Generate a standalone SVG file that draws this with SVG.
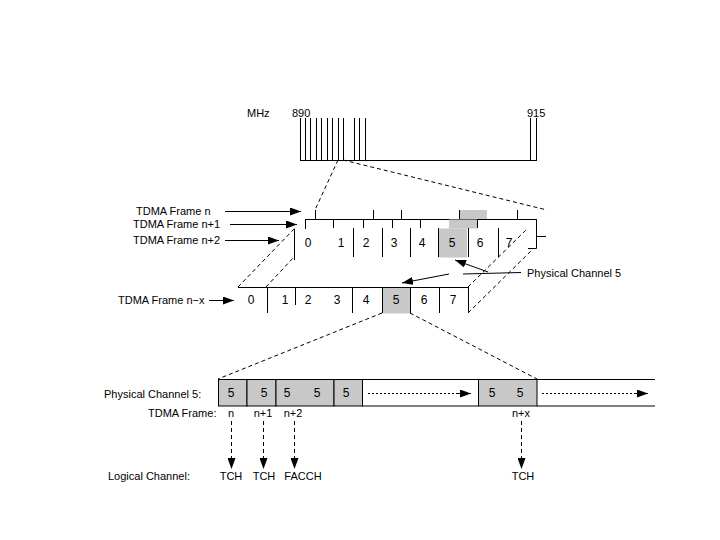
<svg xmlns="http://www.w3.org/2000/svg" width="720" height="540" viewBox="0 0 720 540">
<defs>
<marker id="ah" markerUnits="userSpaceOnUse" markerWidth="11" markerHeight="8" refX="11" refY="4" orient="auto"><path d="M0,0 L11,4 L0,8 z" fill="#000"/></marker>
<style>
text{font-family:"Liberation Sans",Arial,sans-serif;font-size:11px;fill:#000}
.c{text-anchor:middle}
.d{font-size:12px;text-anchor:middle}
.ln{stroke:#000;stroke-width:1;fill:none}
.g{fill:#c8c8c8;stroke:none}
.gb{fill:#c8c8c8;stroke:#000;stroke-width:1}
.dash{stroke:#000;stroke-width:1;stroke-dasharray:4 3;fill:none}
.dot{stroke:#000;stroke-width:1;stroke-dasharray:2 2;fill:none}
.arr{stroke:#000;stroke-width:1;fill:none;marker-end:url(#ah)}
.darr{stroke:#000;stroke-width:1;fill:none;stroke-dasharray:4 3;marker-end:url(#ah)}
</style>
</defs>
<rect width="720" height="540" fill="#fff"/>

<g id="band">
<text x="247" y="117">MHz</text>
<text x="292" y="117">890</text>
<text x="527" y="117">915</text>
<path class="ln" d="M300.5,118V160M305.5,118V160M310.5,118V160M316.5,118V160M321.5,118V160M327.5,118V160M332.5,118V160M338.5,118V160M343.5,118V160M354.5,118V160M359.5,118V160M365.5,118V160M530.5,118V160M536.5,118V160M300,160.5H537"/>
</g>

<g id="frame-n">
<text x="136" y="215">TDMA Frame n</text>
<rect class="g" x="459" y="210" width="28" height="9"/>
<path class="ln" d="M305,219.5H536M315.5,210V219M373.5,210V219M401.5,210V219M459.5,210V219M517.5,210V219"/>
</g>

<g id="frame-n1">
<text x="133" y="228">TDMA Frame n+1</text>
<rect class="g" x="449" y="219.5" width="28" height="9"/>
<path class="ln" d="M305.5,219V229M333.5,219V228M363.5,219V228M392.5,219V228M420.5,219V228M477.5,219V228"/>
</g>

<g id="frame-n2">
<text x="133" y="244">TDMA Frame n+2</text>
<rect class="g" x="438" y="228.5" width="29" height="29"/>
<path class="ln" d="M294.5,229V260M353.5,228V257M382.5,228V257M410.5,228V257M438.5,228V257M468.5,228V257M498.5,228V257M536.5,219V248.5H528M536,236.5H546"/>
<text class="d" x="308" y="247">0</text>
<text class="d" x="341" y="247">1</text>
<text class="d" x="366" y="247">2</text>
<text class="d" x="394" y="247">3</text>
<text class="d" x="422" y="247">4</text>
<text class="d" x="452" y="247">5</text>
<text class="d" x="480" y="247">6</text>
<text class="d" x="509" y="247">7</text>
</g>

<g id="frame-nx">
<text x="118" y="304">TDMA Frame n−x</text>
<rect class="g" x="382" y="287.5" width="28" height="26"/>
<path class="ln" d="M238,287.5H468M267.5,287V313M295.5,287V305M352.5,287V313M382.5,287V313M410.5,287V313M439.5,287V313M468.5,287V313"/>
<text class="d" x="251" y="304">0</text>
<text class="d" x="285" y="304">1</text>
<text class="d" x="308" y="304">2</text>
<text class="d" x="337" y="304">3</text>
<text class="d" x="366" y="304">4</text>
<text class="d" x="396" y="304">5</text>
<text class="d" x="424" y="304">6</text>
<text class="d" x="453" y="304">7</text>
</g>

<g id="label-pc5">
<text x="527" y="277">Physical Channel 5</text>
</g>

<g id="physical-channel">
<text x="104" y="398">Physical Channel 5:</text>
<rect class="gb" x="218.5" y="379.5" width="28.5" height="26.5"/>
<rect class="gb" x="247" y="379.5" width="29" height="26.5"/>
<rect class="gb" x="276" y="379.5" width="58" height="26.5"/>
<rect class="gb" x="334" y="379.5" width="28.5" height="26.5"/>
<rect class="gb" x="478.5" y="379.5" width="58.5" height="26.5"/>
<path class="ln" d="M362,379.5H478.5M362,406H478.5M537,379.5H655M537,406H655"/>
<text class="d" x="231" y="397">5</text>
<text class="d" x="264" y="397">5</text>
<text class="d" x="287" y="397">5</text>
<text class="d" x="317" y="397">5</text>
<text class="d" x="346" y="397">5</text>
<text class="d" x="492" y="397">5</text>
<text class="d" x="520" y="397">5</text>
</g>

<g id="tdma-frame-row">
<text x="148" y="417">TDMA Frame:</text>
<text class="c" x="231" y="417">n</text>
<text class="c" x="263" y="417">n+1</text>
<text class="c" x="293" y="417">n+2</text>
<text class="c" x="521" y="417">n+x</text>
</g>

<g id="logical-channel">
<text x="108" y="480">Logical Channel:</text>
<text class="c" x="231" y="480">TCH</text>
<text class="c" x="264" y="480">TCH</text>
<text class="c" x="303" y="480">FACCH</text>
<text class="c" x="523" y="480">TCH</text>
</g>

<g id="connectors">
<path class="dash" d="M338,160 L315,210"/>
<path class="dash" d="M343,160 L547,210"/>
<path class="arr" d="M225,211.5 H301"/>
<path class="arr" d="M230,224.5 H297"/>
<path class="arr" d="M225,240.5 H279"/>
<path class="arr" d="M209,300.5 H234"/>
<path class="dash" d="M238,287 L295,228"/>
<path class="dash" d="M266,287 L294,257"/>
<path class="dash" d="M468,287 L527,229"/>
<path class="dash" d="M468,313 L534,248"/>
<path class="ln" d="M521,272.5 L463,274"/>
<path class="arr" d="M488,272 L455,260"/>
<path class="arr" d="M449,274 L402,283"/>
<path class="dash" d="M382,313 L218,379"/>
<path class="dash" d="M410,313 L537,379"/>
<path class="dot" d="M368,393.5 H460"/>
<path class="arr" d="M458,393.5 H471"/>
<path class="dot" d="M542,393.5 H636"/>
<path class="arr" d="M634,393.5 H648"/>
<path class="darr" d="M231.5,421 V469"/>
<path class="darr" d="M263.5,421 V469"/>
<path class="darr" d="M294.5,421 V469"/>
<path class="darr" d="M521.5,421 V469"/>
</g>
</svg>
